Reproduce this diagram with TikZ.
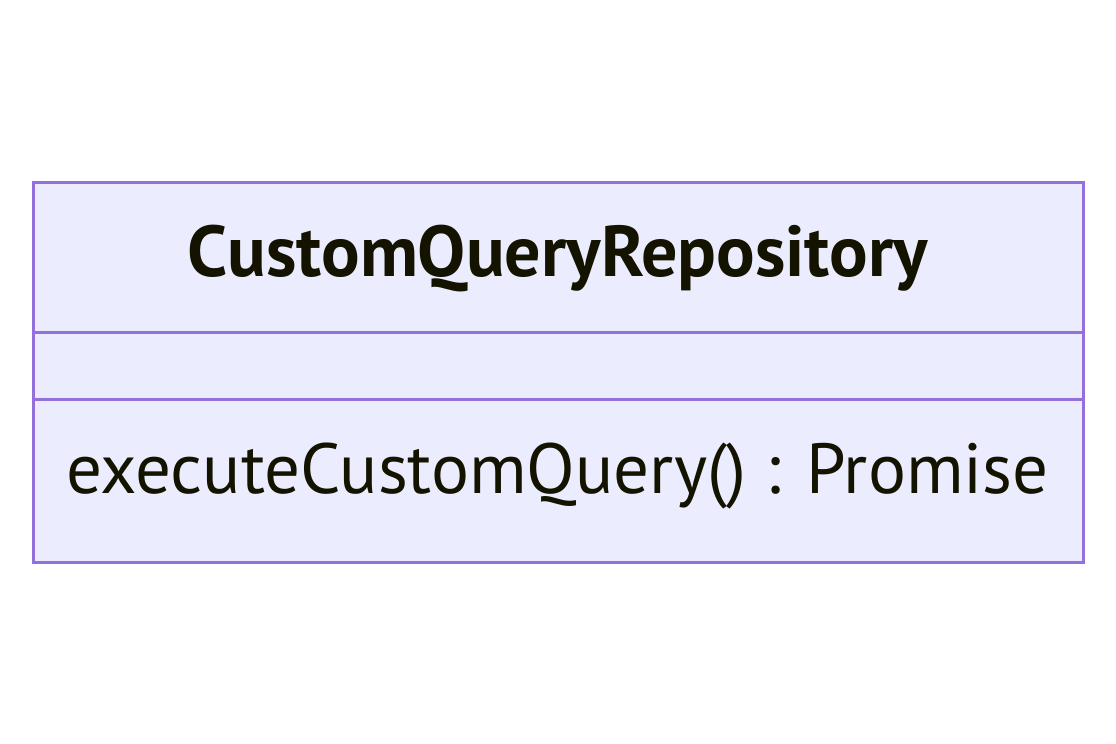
\documentclass[tikz,border=0pt]{standalone}
\usepackage{fontspec}
\setmainfont{PT Sans}
\definecolor{boxfill}{HTML}{ECECFF}
\definecolor{boxline}{HTML}{9370DB}
\definecolor{txt}{HTML}{131300}
\tikzset{
  classtext/.style={text=txt, inner sep=0pt},
  boxstroke/.style={draw=boxline, line width=3pt}
}
\begin{document}
\begin{tikzpicture}[x=1pt,y=-1pt]
\useasboundingbox (0,0) rectangle (1116,744);
\fill[white] (0,0) rectangle (1116,744);
\coordinate (tl) at (33,182);
\coordinate (br) at (1083,562);
\coordinate (d1l) at (33,332);
\coordinate (d1r) at (1083,332);
\coordinate (d2l) at (33,399);
\coordinate (d2r) at (1083,399);
\fill[boxfill] (tl) rectangle (br);
\draw[boxstroke] (d1l) -- (d1r);
\draw[boxstroke] (d2l) -- (d2r);
\draw[boxstroke] (tl) rectangle (br);
\node[classtext, anchor=base, font=\fontsize{72}{86}\selectfont\bfseries] (title) at (558,276) {CustomQueryRepository};
\node[classtext, anchor=base west, font=\fontsize{71}{85}\selectfont] (method) at (66,493) {executeCustomQuery() : Promise};
\end{tikzpicture}
\end{document}
